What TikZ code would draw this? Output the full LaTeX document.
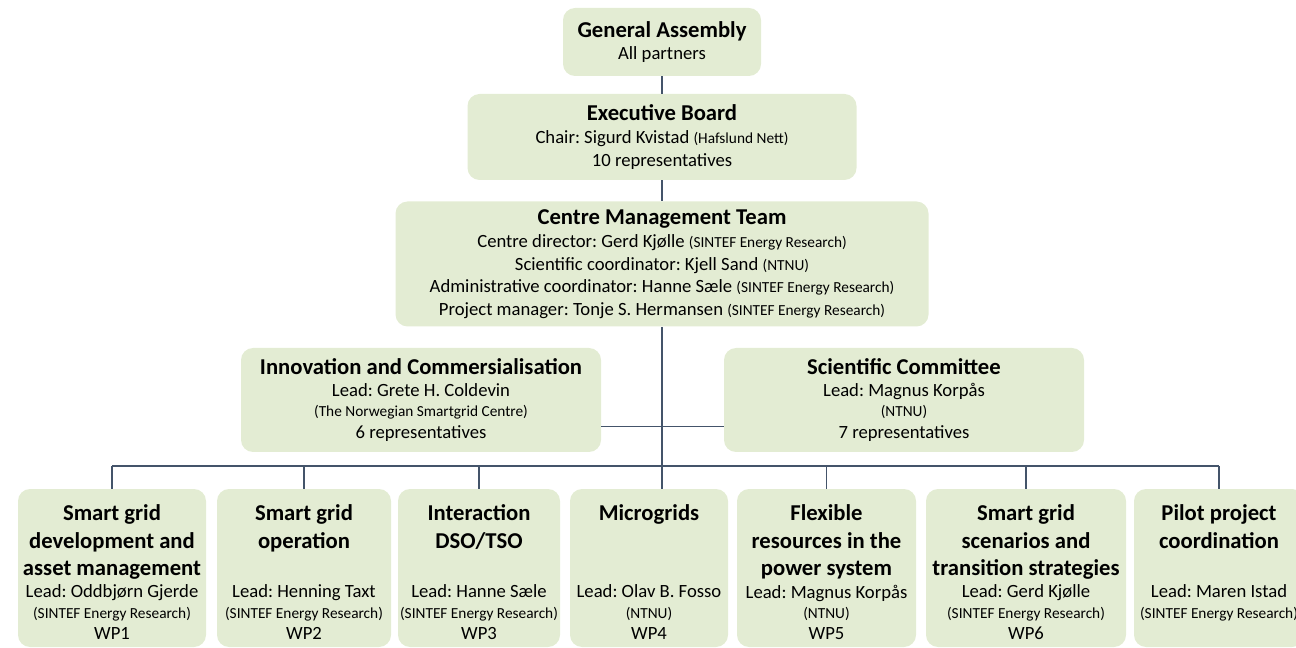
\documentclass[tikz,border=0pt]{standalone}
\usepackage{fontspec}
\setmainfont{Carlito}
\usetikzlibrary{calc, positioning}
\definecolor{sgreen}{HTML}{E3ECD3}
\definecolor{sline}{HTML}{44546A}
\newcommand{\ttlfont}{\fontsize{17}{20.6}\selectfont\bfseries}
\newcommand{\smlfont}{\fontsize{11.5}{13}\selectfont}
\newcommand{\txtfont}{\fontsize{14}{17}\selectfont}
\frenchspacing

\begin{document}
\begin{tikzpicture}[x=0.75pt, y=-0.75pt,
    BOX/.style={rectangle, fill=sgreen, rounded corners=9pt, inner sep=0pt, align=center, font=\txtfont},
    TXT/.style={inner sep=0pt, align=center, font=\txtfont},
    LNK/.style={draw=sline, line width=1.1pt}
    ]
    \useasboundingbox (0,0) rectangle (1296,648);
    \clip (0,0) rectangle (1296,648);
    % governing bodies
    \node[BOX, minimum width=148.5pt, minimum height=51pt] (GA) at (662,42) {{\ttlfont General Assembly}\\[-1pt]All partners};
    \node[BOX, minimum width=291.75pt, minimum height=64.5pt] (EB) at (662,137) {{\ttlfont Executive Board}\\[0.5pt]Chair: Sigurd Kvistad {\smlfont (Hafslund Nett)}\\10 representatives};
    \node[BOX, minimum width=399.75pt, minimum height=93.75pt] (CMT) at (662,264) {{\ttlfont Centre Management Team}\\[0.5pt]Centre director: Gerd Kjølle {\smlfont (SINTEF Energy Research)}\\Scientific coordinator: Kjell Sand {\smlfont (NTNU)}\\Administrative coordinator: Hanne Sæle {\smlfont (SINTEF Energy Research)}\\Project manager: Tonje S. Hermansen {\smlfont (SINTEF Energy Research)}};
    \node[BOX, minimum width=270pt, minimum height=78pt] (IC) at (421,400) {{\ttlfont Innovation and Commersialisation}\\Lead: Grete H. Coldevin\\[-2pt]{\smlfont (The Norwegian Smartgrid Centre)}\\[-0.5pt]6 representatives};
    \node[BOX, minimum width=270pt, minimum height=78pt] (SC) at (904,400) {{\ttlfont Scientific Committee}\\Lead: Magnus Korpås\\[-2pt]{\smlfont (NTNU)}\\[-0.5pt]7 representatives};
    % work packages
    \node[BOX, minimum width=141pt, minimum height=118.5pt] (WP1) at (112,568) {};
    \node[BOX, minimum width=130.5pt, minimum height=118.5pt] (WP2) at (304,568) {};
    \node[BOX, minimum width=121.5pt, minimum height=118.5pt] (WP3) at (479,568) {};
    \node[BOX, minimum width=118.5pt, minimum height=118.5pt] (WP4) at (649,568) {};
    \node[BOX, minimum width=134.25pt, minimum height=118.5pt] (WP5) at (826.5,568) {};
    \node[BOX, minimum width=150pt, minimum height=118.5pt] (WP6) at (1026,568) {};
    \node[BOX, minimum width=127.5pt, minimum height=118.5pt] (WP7) at (1219,568) {};
    \node[TXT, font=\ttlfont, anchor=north] (WP1t) at ($(WP1.north)+(0,16)$) {Smart grid\\development and\\asset management};
    \node[TXT, font=\ttlfont, anchor=north] (WP2t) at ($(WP2.north)+(0,16)$) {Smart grid\\operation};
    \node[TXT, font=\ttlfont, anchor=north] (WP3t) at ($(WP3.north)+(0,16)$) {Interaction\\DSO/TSO};
    \node[TXT, font=\ttlfont, anchor=north] (WP4t) at ($(WP4.north)+(0,16)$) {Microgrids};
    \node[TXT, font=\ttlfont, anchor=north] (WP5t) at ($(WP5.north)+(0,16)$) {Flexible\\resources in the\\power system};
    \node[TXT, font=\ttlfont, anchor=north] (WP6t) at ($(WP6.north)+(0,16)$) {Smart grid\\scenarios and\\transition strategies};
    \node[TXT, font=\ttlfont, anchor=north] (WP7t) at ($(WP7.north)+(0,16)$) {Pilot project\\coordination};
    \node[TXT, anchor=north] (WP1l) at ($(WP1.north)+(0,96)$) {Lead: Oddbjørn Gjerde\\[-1.5pt]{\smlfont (SINTEF Energy Research)}\\[-1.5pt]WP1};
    \node[TXT, anchor=north] (WP2l) at ($(WP2.north)+(0,96)$) {Lead: Henning Taxt\\[-1.5pt]{\smlfont (SINTEF Energy Research)}\\[-1.5pt]WP2};
    \node[TXT, anchor=north] (WP3l) at ($(WP3.north)+(0,96)$) {Lead: Hanne Sæle\\[-1.5pt]{\smlfont (SINTEF Energy Research)}\\[-1.5pt]WP3};
    \node[TXT, anchor=north] (WP4l) at ($(WP4.north)+(0,96)$) {Lead: Olav B. Fosso\\[-1.5pt]{\smlfont (NTNU)}\\[-1.5pt]WP4};
    \node[TXT, anchor=north] (WP5l) at ($(WP5.north)+(0,96)$) {Lead: Magnus Korpås\\[-1.5pt]{\smlfont (NTNU)}\\[-1.5pt]WP5};
    \node[TXT, anchor=north] (WP6l) at ($(WP6.north)+(0,96)$) {Lead: Gerd Kjølle\\[-1.5pt]{\smlfont (SINTEF Energy Research)}\\[-1.5pt]WP6};
    \node[TXT, anchor=north] (WP7l) at ($(WP7.north)+(0,96)$) {Lead: Maren Istad\\[-1.5pt]{\smlfont (SINTEF Energy Research)}};
    % connectors
    \coordinate (bus) at (662,466);
    \draw[LNK] (GA) -- (EB);
    \draw[LNK] (EB) -- (CMT);
    \draw[LNK] (CMT) -- (CMT |- WP4.north);
    \draw[LNK] ([yshift=-20pt]IC.east) -- ([yshift=-20pt]SC.west);
    \draw[LNK] (WP1.north |- bus) -- (WP7.north |- bus);
    \foreach \w in {WP1,WP2,WP3,WP5,WP6,WP7}
        \draw[LNK] (\w.north) -- (\w.north |- bus);
\end{tikzpicture}
\end{document}
